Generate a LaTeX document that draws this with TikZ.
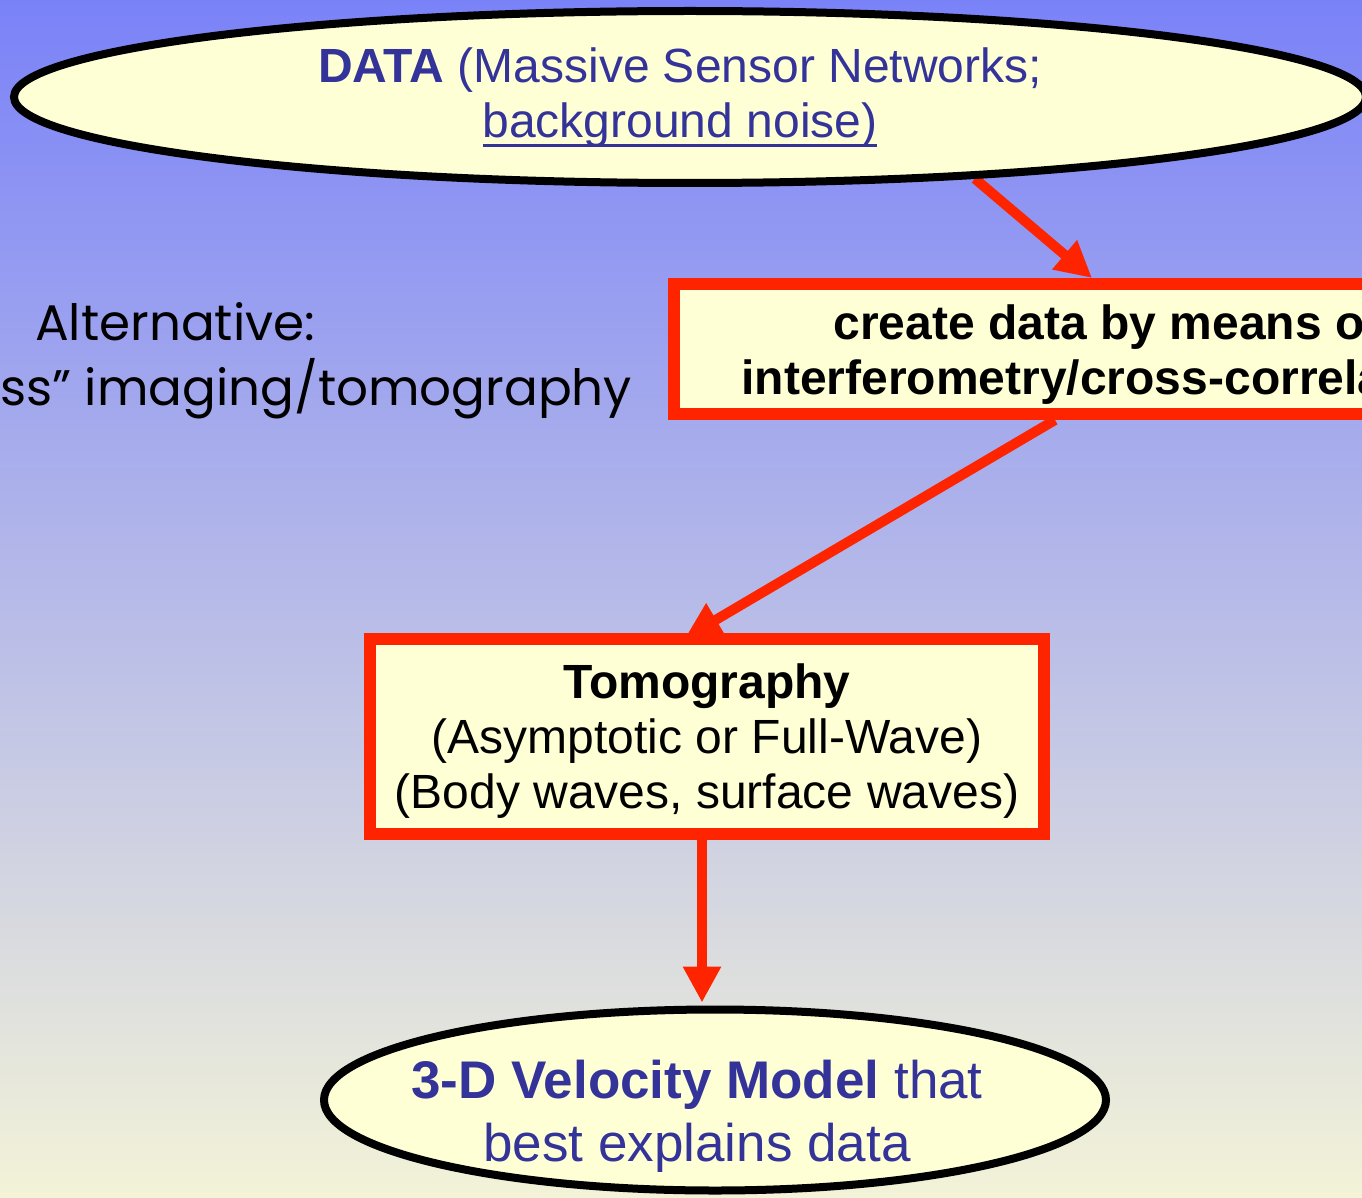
\documentclass[tikz,border=0pt]{standalone}
\usepackage{fontspec}
\setmainfont{Liberation Sans}
\newfontfamily\altfont{Poppins}
\usetikzlibrary{shapes.geometric,arrows.meta,calc,backgrounds}
\definecolor{bgtop}{RGB}{122,130,248}
\definecolor{bgmid}{RGB}{190,192,236}
\definecolor{bgbot}{RGB}{243,243,216}
\definecolor{cream}{RGB}{255,255,213}
\definecolor{arrowred}{RGB}{255,36,0}
\definecolor{textblue}{RGB}{51,51,153}
\newcommand\ulineX[1]{\setbox0\hbox{#1}\rlap{\rule[-9pt]{\wd0}{3pt}}\box0}
\begin{document}
\begin{tikzpicture}[x=1pt,y=-1pt,
  ell/.style={ellipse, draw=black, line width=8pt, fill=cream, inner sep=0pt},
  redbox/.style={rectangle, draw=arrowred, line width=12pt, fill=cream, inner sep=0pt,
    align=center, font=\fontsize{48}{55}\selectfont},
  ltxt/.style={inner sep=0pt, align=center},
  alttxt/.style={inner sep=0pt, anchor=base west, font=\altfont\fontsize{50}{60}\selectfont},
  arr/.style={draw=arrowred, line width=10pt, -{Triangle[width=36pt,length=36pt]}}]
\useasboundingbox (0,0) rectangle (1362,1198);
\clip (0,0) rectangle (1362,1198);
% nodes
\node[ell, minimum width=1352pt, minimum height=172pt] (data) at (690,97) {};
\node[ltxt, text=textblue, font=\fontsize{48}{55}\selectfont] (datatxt) at (680,98)
  {\textbf{DATA} (Massive Sensor Networks;\\ \ulineX{background noise)}};
\node[redbox, minimum width=866pt, minimum height=130pt] (box2) at (1107,349)
  {\rule{0pt}{45pt}\bfseries create data by means of\\ \bfseries interferometry/cross-correlation};
\node[redbox, minimum width=674pt, minimum height=195pt] (box3) at (707,736.5)
  {\rule{0pt}{43pt}\textbf{Tomography}\\ (Asymptotic or Full-Wave)\\ (Body waves, surface waves)};
\node[ell, minimum width=782pt, minimum height=181pt] (model) at (715,1100) {};
\node[ltxt, text=textblue, font=\fontsize{53}{63}\selectfont] (modeltxt) at (697,1116)
  {\textbf{3-D Velocity Model} that\\ best explains data};
\node[alttxt] (alt1) at (35,340) {Alternative:};
\node[alttxt] (alt2) at (0,405) {ss” imaging/tomography};
% background and connectors
\begin{pgfonlayer}{background}
\shade[top color=bgtop, middle color=bgmid, bottom color=bgbot] (0,0) rectangle (1362,1198);
\draw[arr] (data.-16) -- ($(box2.north west)+(424,0)$);
\draw[arr] ($(box2.south west)+(387,0)$) -- ($(box3.north west)+(321,5)$);
\draw[arr] ($(box3.south)+(-5,0)$) -- ($(model.north)+(-13,-3)$);
\end{pgfonlayer}
\end{tikzpicture}
\end{document}
